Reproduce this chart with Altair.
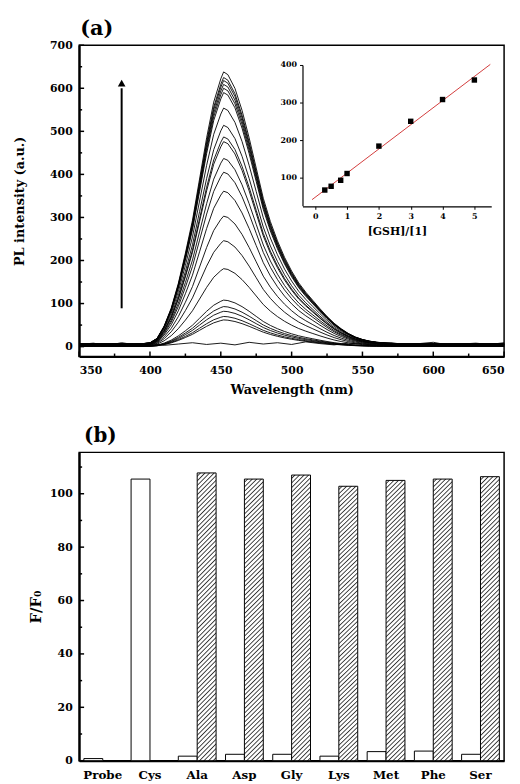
import altair as alt
import pandas as pd

# ---------------- Panel (a): emission spectra ----------------
wavelengths = [350, 355, 360, 365, 370, 375, 380, 385, 390, 395, 400, 405, 410, 415, 420,
               425, 430, 435, 440, 445, 450, 452, 455, 460, 465, 470, 475, 480, 485, 490,
               495, 500, 505, 510, 515, 520, 525, 530, 535, 540, 545, 550, 555, 560, 565,
               570, 575, 580, 590, 600, 610, 620, 630, 640, 650]
# normalised band shape
profile = [0.010, 0.010, 0.010, 0.010, 0.010, 0.010, 0.010, 0.010, 0.010, 0.011, 0.014,
           0.030, 0.075, 0.140, 0.230, 0.340, 0.460, 0.610, 0.760, 0.890, 0.975, 1.000,
           0.990, 0.940, 0.860, 0.760, 0.650, 0.540, 0.455, 0.385, 0.325, 0.275, 0.232,
           0.198, 0.168, 0.138, 0.110, 0.085, 0.065, 0.048, 0.035, 0.026, 0.020, 0.016,
           0.014, 0.012, 0.011, 0.010, 0.010, 0.010, 0.010, 0.010, 0.010, 0.010, 0.010]
peaks = [638, 625, 618, 609, 600, 590, 554, 514, 487, 476, 437, 405, 361, 303, 246,
         181, 108, 93, 82, 70, 62]

probe_wl = list(range(350, 651, 10))
probe_pl = [5, 8, 3, 9, 4, 7, 3, 6, 9, 5, 8, 4, 10, 6, 9, 5, 11, 7, 4, 8, 6, 3, 9, 5,
            7, 10, 4, 6, 8, 5, 9]

arrow_x = [380]
arrow_y = [89, 600]
arrow_head_y = [612]

x_ticks_major = [350, 400, 450, 500, 550, 600, 650]
x_ticks_minor = [375, 425, 475, 525, 575, 625]
y_ticks_major = [0, 100, 200, 300, 400, 500, 600, 700]
y_ticks_minor = [50, 150, 250, 350, 450, 550, 650]

# inset
gsh_ratio = [0.3, 0.5, 0.8, 1.0, 2.0, 3.0, 4.0, 5.0]
gsh_pl = [67, 77, 93, 111, 184, 250, 308, 360]

# ---------------- Panel (b): selectivity ----------------
amino = ["Probe", "Cys", "Ala", "Asp", "Gly", "Lys", "Met", "Phe", "Ser"]
alone_vals = [0.8, 105.5, 1.7, 2.4, 2.4, 1.7, 3.4, 3.6, 2.4]
mixed_vals = [None, None, 107.8, 105.5, 107.0, 102.8, 105.0, 105.5, 106.4]
b_ticks_major = [0, 20, 40, 60, 80, 100]
b_ticks_minor = [10, 30, 50, 70, 90, 110]

FONT = "DejaVu Serif"
W = 430
H_A = 315
H_B = 312

# ---- build tables ----
rows = []
for i, p in enumerate(peaks):
    for w, f in zip(wavelengths, profile):
        rows.append({"curve": f"c{i}", "wl": w, "pl": p * f})
for w, v in zip(probe_wl, probe_pl):
    rows.append({"curve": "probe", "wl": w, "pl": v})
spec_df = pd.DataFrame(rows)

xs = alt.Scale(domain=[350, 650], nice=False, zero=False)
ys = alt.Scale(domain=[-23, 700], nice=False, zero=False)

curves = alt.Chart(spec_df).mark_line(color="black", strokeWidth=0.9).encode(
    x=alt.X("wl:Q", scale=xs,
            axis=alt.Axis(values=x_ticks_major, title="Wavelength (nm)", ticks=False,
                          labelPadding=8, titlePadding=8, grid=False)),
    y=alt.Y("pl:Q", scale=ys,
            axis=alt.Axis(values=y_ticks_major, title="PL intensity (a.u.)", ticks=False,
                          labelPadding=7, titlePadding=23, grid=False)),
    detail="curve:N",
    order="wl:Q",
)

arrow_df = pd.DataFrame({"x": arrow_x, "y1": [arrow_y[0]], "y2": [arrow_y[1]]})
arrow = alt.Chart(arrow_df).mark_rule(color="black", strokeWidth=2).encode(
    x="x:Q", y="y1:Q", y2="y2:Q")
head = alt.Chart(pd.DataFrame({"x": arrow_x, "y": arrow_head_y})).mark_point(
    shape="triangle-up", filled=True, color="black", size=60, opacity=1).encode(
    x="x:Q", y="y:Q")

xtM = alt.Chart(pd.DataFrame({"v": x_ticks_major})).mark_rule(color="black", strokeWidth=1.5).encode(
    x="v:Q", y=alt.value(H_A), y2=alt.value(H_A - 5))
xtm = alt.Chart(pd.DataFrame({"v": x_ticks_minor})).mark_rule(color="black", strokeWidth=1.5).encode(
    x="v:Q", y=alt.value(H_A), y2=alt.value(H_A - 3))
ytM = alt.Chart(pd.DataFrame({"v": y_ticks_major})).mark_rule(color="black", strokeWidth=1.5).encode(
    y="v:Q", x=alt.value(0), x2=alt.value(5))
ytm = alt.Chart(pd.DataFrame({"v": y_ticks_minor})).mark_rule(color="black", strokeWidth=1.5).encode(
    y="v:Q", x=alt.value(0), x2=alt.value(3))

main_layer = alt.layer(curves, arrow, head, xtM, xtm, ytM, ytm)

inset_df = pd.DataFrame({"gsh": gsh_ratio, "ipl": gsh_pl})
ixs = alt.Scale(domain=[-0.4, 5.53], range=[226, 417], nice=False, zero=False)
iys = alt.Scale(domain=[25, 400], range=[162.5, 20], nice=False, zero=False)
ix_axis = alt.Axis(orient="bottom", offset=-152, values=[0, 1, 2, 3, 4, 5], title="[GSH]/[1]",
                   labelFontSize=8, titleFontSize=11, tickSize=3, domainWidth=1.2,
                   titlePadding=6, labelPadding=3, grid=False)
iy_axis = alt.Axis(orient="left", offset=-226, values=[100, 200, 300, 400], title=None,
                   labelFontSize=8, tickSize=3, domainWidth=1.2, labelPadding=3, grid=False)

ipoints = alt.Chart(inset_df).mark_square(color="black", size=30, opacity=1).encode(
    x=alt.X("gsh:Q", scale=ixs, axis=ix_axis),
    y=alt.Y("ipl:Q", scale=iys, axis=iy_axis),
)
ifit = alt.Chart(inset_df).transform_regression(
    "gsh", "ipl", extent=[-0.1, 5.5]).mark_line(color="#d23c3c", strokeWidth=1).encode(
    x=alt.X("gsh:Q", scale=ixs, axis=ix_axis),
    y=alt.Y("ipl:Q", scale=iys, axis=iy_axis),
)
inset_layer = alt.layer(ifit, ipoints)

top = alt.layer(main_layer, inset_layer).resolve_scale(
    x="independent", y="independent").properties(
    width=W, height=H_A,
    title=alt.Title("(a)", anchor="start", frame="group", fontSize=21, font=FONT,
                    fontWeight="bold", offset=0, dx=1, color="black"),
)

# ---- panel (b) ----
brows = []
for c, a, m in zip(amino, alone_vals, mixed_vals):
    brows.append({"cat": c, "series": "alone", "val": a})
    if m is not None:
        brows.append({"cat": c, "series": "mixed", "val": m})
bar_df = pd.DataFrame(brows)

# diagonal hatch drawn as a soft striped gradient
period = 0.0080
stops = []
k = 0
while k * period < 0.62:
    o = k * period
    stops += [
        alt.GradientStop(offset=round(o, 5), color="white"),
        alt.GradientStop(offset=round(o + 0.45 * period, 5), color="white"),
        alt.GradientStop(offset=round(o + 0.72 * period, 5), color="#333333"),
        alt.GradientStop(offset=round(o + period, 5), color="white"),
    ]
    k += 1
hatch = alt.LinearGradient(gradient="linear", stops=stops, x1=0, y1=0, x2=2 * 19 / 286, y2=2)

bx = alt.X("cat:N", sort=amino,
           scale=alt.Scale(paddingInner=0.2, paddingOuter=0.1),
           axis=alt.Axis(title=None, ticks=False, labelAngle=0, labelPadding=9,
                         labelFontSize=12))
bxo = alt.XOffset("series:N", scale=alt.Scale(domain=["alone", "mixed"], paddingInner=0,
                                             paddingOuter=0))
by = alt.Y("val:Q", scale=alt.Scale(domain=[0, 115.5], nice=False),
           axis=alt.Axis(values=b_ticks_major, title="F/F₀", ticks=False, grid=False,
                         labelPadding=7, titlePadding=6, titleFontSize=15))

bars_alone = alt.Chart(bar_df).transform_filter(alt.datum.series == "alone").mark_bar(
    fill="white", stroke="black", strokeWidth=1).encode(x=bx, xOffset=bxo, y=by)
bars_mixed = alt.Chart(bar_df).transform_filter(alt.datum.series == "mixed").mark_bar(
    fill=hatch, stroke="black", strokeWidth=1).encode(x=bx, xOffset=bxo, y=by)

btM = alt.Chart(pd.DataFrame({"v": b_ticks_major})).mark_rule(color="black", strokeWidth=1.5).encode(
    y="v:Q", x=alt.value(0), x2=alt.value(5))
btm = alt.Chart(pd.DataFrame({"v": b_ticks_minor})).mark_rule(color="black", strokeWidth=1.5).encode(
    y="v:Q", x=alt.value(0), x2=alt.value(3))

bottom = alt.layer(bars_alone, bars_mixed, btM, btm).properties(
    width=W, height=H_B,
    title=alt.Title("(b)", anchor="start", frame="group", fontSize=20, font=FONT,
                    fontWeight="bold", offset=6, dx=5, color="black"),
)

chart = alt.vconcat(top, bottom, spacing=29).configure_view(
    stroke="black", strokeWidth=1.5
).configure_axis(
    labelFont=FONT, labelFontWeight="bold", labelFontSize=11, labelColor="black",
    titleFont=FONT, titleFontWeight="bold", titleFontSize=13, titleColor="black",
    domainColor="black", domainWidth=2.2, tickColor="black",
)

chart.save("out.html", embed_options={"renderer": "svg", "actions": False})
